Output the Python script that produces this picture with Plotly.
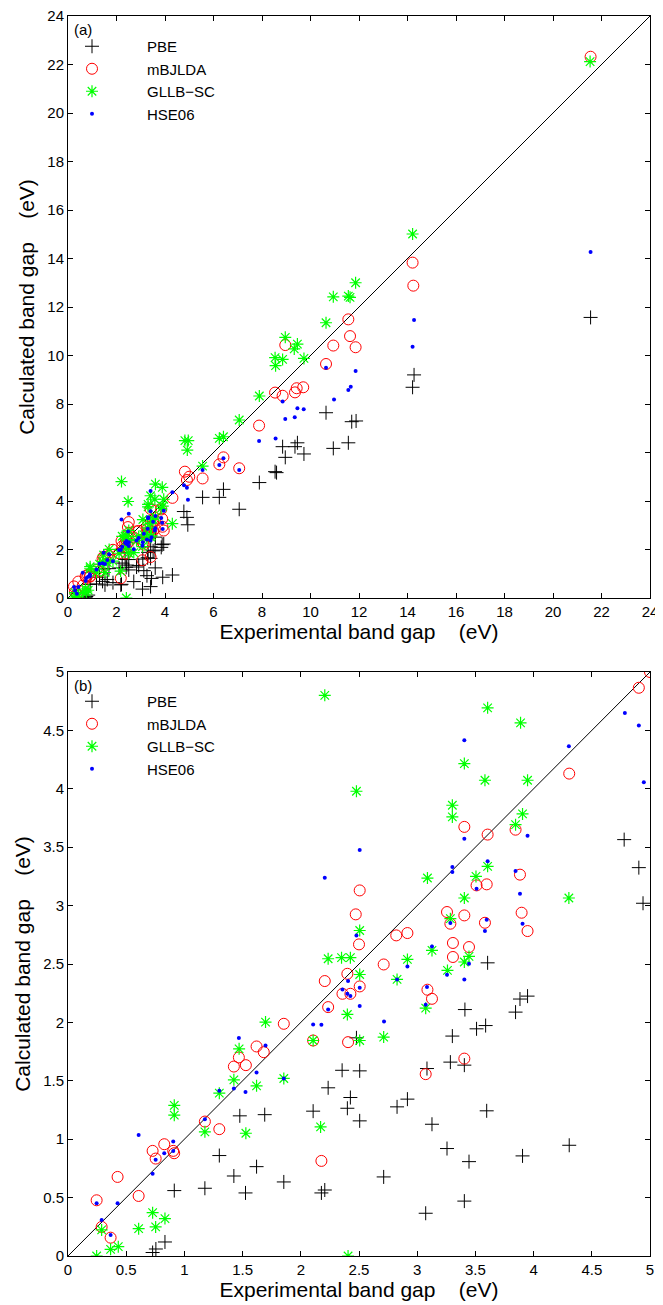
import plotly.graph_objects as go

# ---------------- data (eV) ----------------
pbe_x = [0.727, 0.755, 0.833, 0.913, 1.176, 1.30, 1.425, 1.525, 1.62, 1.476, 1.69,
         1.854, 2.106, 2.177, 2.206, 2.235, 2.355, 2.506, 2.426, 2.40, 2.506, 2.712,
         2.827, 2.916, 3.084, 3.285, 3.127, 3.256, 3.073, 2.478, 3.302,
         3.405, 3.597, 3.445, 3.405, 3.905, 4.306,
         4.904, 4.94, 3.605, 3.41, 3.883, 3.948, 3.845, 3.51, 3.588, 4.778,
         5.55, 6.24, 6.41, 7.06, 7.89, 8.54, 8.6, 8.85, 8.96, 9.36, 9.46, 9.73,
         10.64, 10.94, 11.56, 11.7, 11.88, 14.27, 14.21, 21.55]
pbe_y = [0.03, 0.06, 0.12, 0.56, 0.58, 0.86, 0.685, 0.54, 0.765, 1.20, 1.21,
         0.634, 1.24, 0.54, 0.565, 1.44, 1.59, 1.585, 1.357, 1.265, 1.157, 0.677,
         1.277, 1.343, 1.605, 1.66, 1.128, 0.92, 0.366, 1.868, 1.883,
         1.634, 1.243, 0.808, 0.47, 0.857, 0.948,
         3.325, 3.02, 2.51, 2.11, 2.20, 2.225, 2.088, 1.945, 1.973, 3.565,
         4.15, 4.15, 4.48, 3.66, 4.76, 5.21, 5.17, 6.24, 5.8, 6.24, 6.4, 5.94,
         7.64, 6.17, 6.4, 7.27, 7.3, 9.2, 8.69, 11.57]

mbj_x = [0.246, 0.289, 0.366, 0.426, 0.607, 0.727, 0.753, 0.827, 0.904, 0.912,
         1.176, 1.30, 1.425, 1.468, 1.528, 1.62, 1.682,
         1.854, 2.106, 2.235, 2.406, 2.206, 2.358, 2.426, 2.40, 2.506, 2.50, 2.472,
         2.506, 2.712, 2.82, 2.916, 3.088, 3.127, 3.256, 3.285, 3.307, 3.307,
         3.073, 2.177, 3.405,
         3.51, 3.597, 3.883, 3.405, 3.582, 3.897, 3.948, 3.445,
         4.904, 4.306, 3.405, 3.605, 3.845,
         4.82, 5.0, 5.55, 6.24, 6.41, 7.06, 7.88, 8.54, 8.85, 8.96, 9.36, 9.43, 9.70,
         10.64, 10.94, 11.56, 11.63, 11.86, 14.21, 14.24, 21.55]
mbj_y = [0.477, 0.249, 0.157, 0.677, 0.514, 0.90, 0.834, 0.957, 0.90, 0.88,
         1.151, 1.086, 1.622, 1.70, 1.634, 1.794, 1.745,
         1.988, 1.845, 2.131, 1.831, 2.354, 2.245, 2.245, 2.416, 2.308, 2.668, 2.925,
         3.13, 2.496, 2.745, 2.765, 2.28, 2.202, 2.945, 2.845, 2.68, 2.56,
         1.557, 0.814, 1.69,
         3.173, 3.182, 3.265, 2.916, 2.853, 2.939, 2.782, 2.645,
         4.865, 4.13, 3.674, 3.608, 3.65,
         5.21, 5.0, 4.93, 5.51, 5.80, 5.35, 7.11, 8.47, 8.34, 10.43, 8.48, 8.65, 8.69,
         9.65, 10.41, 11.49, 10.80, 10.34, 13.83, 12.88, 22.32]

gllb_x = [0.246, 0.289, 0.366, 0.432, 0.607, 0.727, 0.753, 0.833, 0.913, 0.913,
          1.176, 1.30, 1.425, 1.528, 1.62, 1.47, 1.697,
          1.854, 2.17, 2.406,
          2.106, 2.235, 2.35, 2.426, 2.40, 2.506, 2.506, 2.506, 2.712, 2.827, 2.916,
          3.073, 3.127, 3.26, 3.285, 3.088,
          2.206, 2.478, 3.302, 3.302,
          3.605, 3.888, 3.405, 3.582, 3.948, 3.905, 3.845, 3.605,
          3.505, 3.405, 4.303, 3.445, 3.405,
          4.82, 4.96, 4.92, 5.55, 6.24, 6.41, 7.06, 7.89, 8.54, 8.56, 8.85, 8.96,
          9.33, 9.46, 9.73, 10.64, 10.94, 11.56, 11.63, 11.86, 14.21, 21.53]
gllb_y = [0.0, 0.223, 0.057, 0.08, 0.234, 0.371, 0.249, 0.32, 1.29, 1.206,
          1.063, 1.394, 1.508, 1.051, 1.457, 1.774, 2.003,
          1.52, 1.105, 0.0,
          1.845, 2.545, 2.554, 2.554, 2.068, 2.41, 2.787, 1.845, 1.874, 2.368, 2.539,
          2.122, 2.616, 2.445, 2.888, 3.236,
          4.80, 3.979, 3.859, 3.759,
          4.693, 4.565, 4.216, 4.073, 4.073, 3.785, 3.693, 3.336,
          3.25, 3.065, 3.065, 2.565, 2.517,
          6.49, 6.49, 6.10, 5.44, 6.58, 6.65, 7.34, 8.33, 9.91, 9.58, 9.84, 10.75,
          10.27, 10.47, 9.88, 11.35, 12.42, 12.45, 12.40, 13.0, 15.01, 22.12]

hse_x = [0.246, 0.289, 0.366, 0.426, 0.607, 0.727, 0.753, 0.827, 0.904, 0.904,
         1.176, 1.30, 1.425, 1.525, 1.62, 1.468, 1.697, 1.854,
         2.106, 2.177, 2.206, 2.235, 2.358, 2.40, 2.426, 2.406, 2.506, 2.506, 2.478,
         2.715, 2.916, 2.827, 3.084, 3.073, 3.127, 3.256, 3.285, 3.302, 3.302, 2.506,
         3.405, 4.303, 4.784, 4.904, 4.947, 3.405, 3.948, 3.605,
         3.845, 3.883, 3.51, 3.905, 3.597, 3.582, 3.445, 3.405,
         5.55, 6.24, 6.41, 7.06, 7.88, 8.56, 8.85, 8.96, 9.35, 9.46, 9.72,
         10.64, 10.97, 11.56, 11.66, 11.86, 14.27, 14.21, 21.55]
hse_y = [0.452, 0.308, 0.18, 0.452, 1.037, 0.705, 0.823, 0.88, 0.98, 0.90,
         1.171, 1.414, 1.434, 1.405, 1.571, 1.866, 1.802, 1.52,
         1.982, 1.98, 3.239, 2.111, 2.282, 2.245, 2.225, 2.354, 2.297, 2.14, 2.745,
         2.008, 2.479, 2.368, 2.303, 2.151, 2.65, 2.408, 2.851, 3.331, 3.288, 3.476,
         4.416, 4.364, 4.65, 4.542, 4.056, 3.573, 3.599, 3.379,
         3.296, 3.102, 3.145, 2.845, 2.879, 2.782, 2.502, 2.368,
         5.28, 5.48, 5.76, 5.28, 6.47, 6.58, 8.10, 7.38, 7.45, 7.82, 7.78,
         9.50, 8.19, 8.58, 8.71, 9.36, 11.46, 10.36, 14.27]

range_a = [0, 24]
range_b = [0, 5]
ticks_a = list(range(0, 25, 2))
ticks_b = [0, 0.5, 1, 1.5, 2, 2.5, 3, 3.5, 4, 4.5, 5]
ticklabels_b = ["0", "0.5", "1", "1.5", "2", "2.5", "3", "3.5", "4", "4.5", "5"]

series = [
    ("PBE", pbe_x, pbe_y, dict(symbol="cross-thin", size=10, color="black",
                                line=dict(color="black", width=1))),
    ("mBJLDA", mbj_x, mbj_y, dict(symbol="circle-open", size=11, color="#ff0000",
                                   line=dict(color="#ff0000", width=1))),
    ("GLLB\u2212SC", gllb_x, gllb_y, dict(symbol="asterisk-open", size=10, color="#00ff00",
                                         line=dict(color="#00ff00", width=1.2))),
    ("HSE06", hse_x, hse_y, dict(symbol="circle", size=4, color="#0000ff",
                                  line=dict(width=0))),
]

FONT = "Liberation Sans, Arial, Helvetica, sans-serif"
fig = go.Figure()

for (xa, ya, rng, leg) in [("x", "y", range_a, "legend"), ("x2", "y2", range_b, "legend2")]:
    fig.add_trace(go.Scatter(x=rng, y=rng, mode="lines", xaxis=xa, yaxis=ya,
                             line=dict(color="black", width=1), showlegend=False,
                             hoverinfo="skip"))
    for name, sx, sy, mk in series:
        fig.add_trace(go.Scatter(x=sx, y=sy, mode="markers", name=name, xaxis=xa, yaxis=ya,
                                 marker=mk, legend=leg, showlegend=True))

# page has an 8px body margin; figure placed at (8, 8)
OFF = 8
W, H = 663 - OFF, 1305 - OFF
x0, x1 = (68 - OFF) / W, (650 - OFF) / W
ya0, ya1 = 1 - (598 - OFF) / H, 1 - (16 - OFF) / H
yb0, yb1 = 1 - (1256 - OFF) / H, 1 - (672 - OFF) / H

axis_common = dict(showline=True, linecolor="black", linewidth=1, mirror="ticks",
                   ticks="inside", ticklen=5, tickcolor="black", showgrid=False,
                   zeroline=False, tickfont=dict(size=15, color="black", family=FONT),
                   automargin=False, ticklabeloverflow="allow")

SP = "\u00a0\u00a0\u00a0\u00a0"
xt = "Experimental band gap" + SP + "(eV)"
yt = "Calculated band gap" + SP + "(eV)"
TF = 21

fig.update_layout(
    width=W, height=H, margin=dict(l=0, r=0, t=0, b=0),
    paper_bgcolor="white", plot_bgcolor="white",
    font=dict(family=FONT, color="black"),
    xaxis=dict(domain=[x0, x1], range=range_a, tickvals=ticks_a, anchor="y",
               title=dict(text=xt, font=dict(size=TF), standoff=2), **axis_common),
    yaxis=dict(domain=[ya0, ya1], range=range_a, tickvals=ticks_a, anchor="x",
               title=dict(text=yt, font=dict(size=TF), standoff=6), **axis_common),
    xaxis2=dict(domain=[x0, x1], range=range_b, tickvals=ticks_b, ticktext=ticklabels_b,
                anchor="y2", title=dict(text=xt, font=dict(size=TF), standoff=2),
                **axis_common),
    yaxis2=dict(domain=[yb0, yb1], range=range_b, tickvals=ticks_b, ticktext=ticklabels_b,
                anchor="x2", title=dict(text=yt, font=dict(size=TF), standoff=6),
                **axis_common),
    legend=dict(x=(37 - OFF) / W, y=1 - (30 - OFF) / H, xanchor="left", yanchor="top",
                bgcolor="rgba(0,0,0,0)", font=dict(size=15, family=FONT),
                itemwidth=100, tracegroupgap=0),
    legend2=dict(x=(37 - OFF) / W, y=1 - (685 - OFF) / H, xanchor="left", yanchor="top",
                 bgcolor="rgba(0,0,0,0)", font=dict(size=15, family=FONT),
                 itemwidth=100, tracegroupgap=0),
    annotations=[
        dict(text="(a)", x=x0 + 4 / W, y=ya1 - 3 / H, xref="paper", yref="paper",
             xanchor="left", yanchor="top", showarrow=False, font=dict(size=15)),
        dict(text="(b)", x=x0 + 4 / W, y=yb1 - 3 / H, xref="paper", yref="paper",
             xanchor="left", yanchor="top", showarrow=False, font=dict(size=15)),
    ],
)

fig.write_html("out.html")
